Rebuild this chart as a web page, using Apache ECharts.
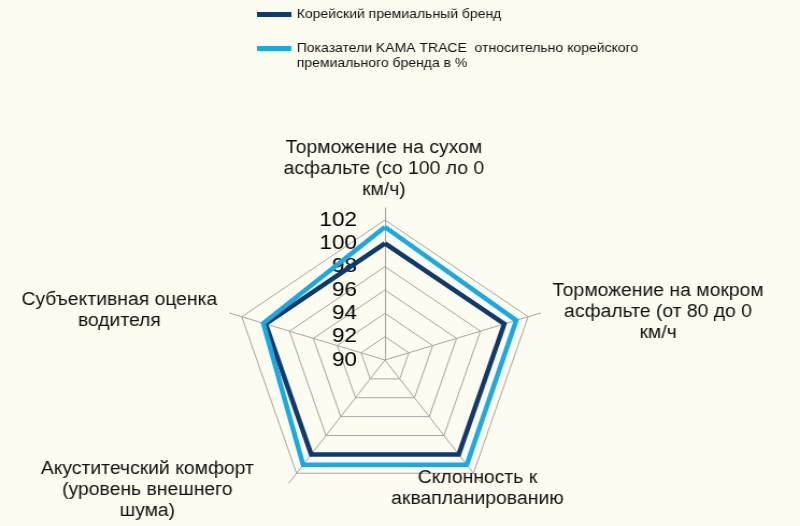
<!DOCTYPE html>
<html><head><meta charset="utf-8">
<script src="https://cdn.jsdelivr.net/npm/echarts@6/dist/echarts.min.js"></script>
<style>
html,body{margin:0;padding:0;background:#FCFCF0;overflow:hidden;}
#wrap{width:800px;height:526px;overflow:hidden;background:#FCFCF0;}
#chart{width:744px;height:526px;transform:scaleX(1.0753);transform-origin:0 0;}
</style></head><body>
<div id="wrap"><div id="chart"></div></div>
<script>
// Categories in clockwise order starting from the top (as in the source chart)
const categories = [
  'Торможение на сухом\nасфальте (со 100 ло 0\nкм/ч)',
  'Торможение на мокром\nасфальте (от 80 до 0\nкм/ч',
  'Склонность к\nаквапланированию',
  'Акуститечский комфорт\n(уровень внешнего\nшума)',
  'Субъективная оценка\nводителя'
];
const seriesNames = [
  'Корейский премиальный бренд',
  'Показатели KAMA TRACE  относительно корейского премиального бренда в %'
];
const koreanBrand = [100, 100, 100, 100, 100];
const kamaTrace = [101.4, 101.0, 101.1, 101.1, 100.2];
const tickMin = 90, tickMax = 102, tickStep = 2;

// ---- layout / style (not data) ----
const cx = 358, cy = 360;
const labelPos = [[357, 169], [612, 312], [444, 489], [137, 490], [111, 311]];
const darkColor = '#103A6D', lightColor = '#1AA9E1', gridColor = '#A6A6A6';
const font = '"Liberation Sans", Arial, sans-serif';

// ECharts lays indicators out counter-clockwise; reorder clockwise data
const ccwOrder = [0, 4, 3, 2, 1];
const reorder = arr => ccwOrder.map(i => arr[i]);
const splits = (tickMax - tickMin) / tickStep;

const indSpoke = reorder(categories).map(n => ({ name: n, min: tickMin, max: tickMax }));
const indGrid = reorder(categories).map((n, i) => {
  const o = { name: n, min: tickMin, max: tickMax };
  if (i === 0) o.axisLabel = { show: true, margin: 26, fontSize: 21, color: '#000', fontFamily: font };
  return o;
});

const chart = echarts.init(document.getElementById('chart'), null, { renderer: 'canvas' });
chart.setOption({
  backgroundColor: '#FCFCF0',
  animation: false,
  legend: [
    {
      data: [{ name: seriesNames[0] }],
      left: 234, top: 3, orient: 'vertical',
      icon: 'rect', itemWidth: 32, itemHeight: 5,
      textStyle: { fontSize: 13, color: '#111', fontFamily: font },
      selectedMode: false
    },
    {
      data: [{ name: seriesNames[1] }],
      left: 234, top: 21, orient: 'vertical',
      icon: 'rect', itemWidth: 32, itemHeight: 5,
      formatter: n => '\n' + n.replace(' премиального', '\nпремиального'),
      textStyle: { fontSize: 13, color: '#111', fontFamily: font, lineHeight: 15 },
      selectedMode: false
    }
  ],
  radar: [
    {
      center: [cx, cy], radius: 152, shape: 'polygon', splitNumber: splits,
      indicator: indSpoke, silent: true,
      axisName: { show: false },
      axisLine: { show: true, lineStyle: { color: gridColor, width: 1 } },
      axisTick: { show: false }, axisLabel: { show: false },
      splitLine: { show: false }, splitArea: { show: false }
    },
    {
      center: [cx, cy], radius: 140, shape: 'polygon', splitNumber: splits,
      indicator: indGrid,
      axisName: { show: false },
      axisLine: { show: false },
      axisTick: { show: false }, axisLabel: { show: false },
      splitLine: { show: true, lineStyle: { color: gridColor, width: 1 } },
      splitArea: { show: false }
    }
  ],
  series: [{
    type: 'radar', radarIndex: 1, symbol: 'none', z: 3,
    data: [
      { name: seriesNames[0], value: reorder(koreanBrand),
        lineStyle: { color: darkColor, width: 4.5, join: 'miter' }, itemStyle: { color: darkColor } },
      { name: seriesNames[1], value: reorder(kamaTrace),
        lineStyle: { color: lightColor, width: 4.5, join: 'miter' }, itemStyle: { color: lightColor } }
    ]
  }],
  graphic: categories.map((c, i) => ({
    type: 'text', x: labelPos[i][0], y: labelPos[i][1], z: 10,
    style: { text: c, align: 'center', verticalAlign: 'middle', font: '18px ' + font, lineHeight: 21, fill: '#111' }
  }))
});
</script>
</body></html>
